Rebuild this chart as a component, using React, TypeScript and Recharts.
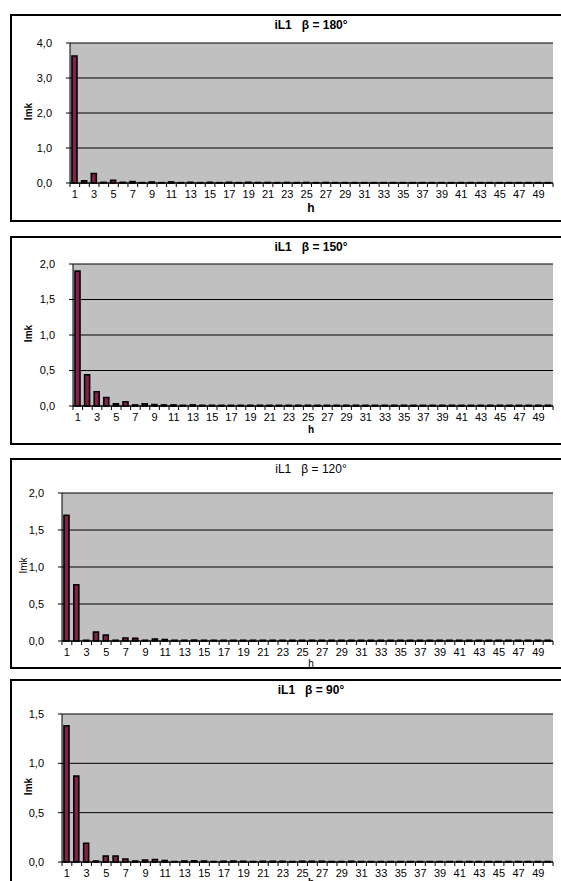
import { BarChart, Bar, XAxis, YAxis, CartesianGrid } from "recharts";

const harmonics = [
  1, 2, 3, 4, 5, 6, 7, 8, 9, 10, 11, 12, 13, 14, 15, 16, 17, 18, 19, 20, 21, 22, 23, 24, 25,
  26, 27, 28, 29, 30, 31, 32, 33, 34, 35, 36, 37, 38, 39, 40, 41, 42, 43, 44, 45, 46, 47, 48, 49, 50,
];

// beta = 180°
const imk180 = [
  3.63, 0.06, 0.27, 0.02, 0.08, 0.02, 0.04, 0.01, 0.03, 0.01, 0.03, 0.01, 0.02, 0.01, 0.02, 0.01, 0.02,
  0.01, 0.02, 0.01, 0.015, 0.01, 0.015, 0.01, 0.015, 0.01, 0.015, 0.01, 0.01, 0.01, 0.01, 0.01, 0.01,
  0.01, 0.01, 0.01, 0.01, 0.01, 0.01, 0.01, 0.01, 0.01, 0.01, 0.01, 0.01, 0.01, 0.01, 0.01, 0.01, 0.01,
];
// beta = 150°
const imk150 = [
  1.9, 0.44, 0.2, 0.12, 0.03, 0.06, 0.015, 0.03, 0.02, 0.015, 0.015, 0.01, 0.015, 0.01, 0.01, 0.01, 0.01,
  0.01, 0.01, 0.01, 0.01, 0.01, 0.01, 0.01, 0.01, 0.01, 0.01, 0.01, 0.01, 0.01, 0.01, 0.01, 0.01, 0.01,
  0.01, 0.01, 0.01, 0.01, 0.01, 0.01, 0.01, 0.01, 0.01, 0.01, 0.01, 0.01, 0.01, 0.01, 0.01, 0.01,
];
// beta = 120°
const imk120 = [
  1.7, 0.76, 0.01, 0.12, 0.08, 0.01, 0.04, 0.035, 0.01, 0.025, 0.02, 0.01, 0.01, 0.012, 0.01, 0.01, 0.01,
  0.01, 0.01, 0.01, 0.01, 0.01, 0.01, 0.01, 0.01, 0.01, 0.01, 0.01, 0.01, 0.01, 0.01, 0.01, 0.01, 0.01,
  0.01, 0.01, 0.01, 0.01, 0.01, 0.01, 0.01, 0.01, 0.01, 0.01, 0.01, 0.01, 0.01, 0.01, 0.01, 0.01,
];
// beta = 90°
const imk90 = [
  1.38, 0.87, 0.19, 0.01, 0.06, 0.06, 0.03, 0.01, 0.02, 0.025, 0.015, 0.005, 0.01, 0.012, 0.01, 0.005,
  0.008, 0.01, 0.008, 0.005, 0.008, 0.008, 0.008, 0.005, 0.008, 0.008, 0.008, 0.005, 0.005, 0.008, 0.005,
  0.005, 0.005, 0.005, 0.005, 0.005, 0.005, 0.005, 0.005, 0.005, 0.005, 0.005, 0.005, 0.005, 0.005, 0.005,
  0.005, 0.005, 0.005, 0.005,
];

const ticks180 = [0, 1, 2, 3, 4];
const ticks150 = [0, 0.5, 1, 1.5, 2];
const ticks120 = [0, 0.5, 1, 1.5, 2];
const ticks90 = [0, 0.5, 1, 1.5];

const FONT = "'Liberation Sans', Arial, sans-serif";
const PLOT_RIGHT = 553;

type PanelProps = {
  title: string;
  values: number[];
  ticks: number[];
  frameTop: number;
  frameHeight: number;
  plotLeft: number;
  plotTop: number;
  plotBottom: number;
  bold: boolean;
  smallH?: boolean;
  hTop?: number;
};

function Panel({ title, values, ticks, frameTop, frameHeight, plotLeft, plotTop, plotBottom, bold, smallH, hTop }: PanelProps) {
  const data = harmonics.map((h, i) => ({ h, v: values[i] }));
  const width = 561;
  const height = frameHeight;
  const band = (PLOT_RIGHT - plotLeft) / harmonics.length;
  const xAxisH = 30;
  const top = plotTop - frameTop;
  const bottom = height - (plotBottom - frameTop) - xAxisH;

  const XTick = (props: any) => {
    const { x, payload } = props;
    const h = payload.value as number;
    const y0 = plotBottom - frameTop;
    const left = x - band / 2;
    return (
      <g>
        <line x1={left} x2={left} y1={y0} y2={y0 + 4} stroke="#000" />
        {h === 50 && <line x1={x + band / 2} x2={x + band / 2} y1={y0} y2={y0 + 4} stroke="#000" />}
        {h % 2 === 1 && (
          <text x={x} y={y0 + 15} textAnchor="middle" fontSize={11} fill="#000" fontFamily={FONT}>
            {h}
          </text>
        )}
      </g>
    );
  };

  return (
    <>
      <div
        style={{
          position: "absolute",
          left: 10,
          top: frameTop,
          width: 560,
          height: frameHeight,
          border: "2px solid #000",
          boxSizing: "border-box",
          background: "#fff",
        }}
      />
      <div style={{ position: "absolute", left: 0, top: frameTop }}>
        <BarChart
          width={width}
          height={height}
          data={data}
          margin={{ top, right: width - PLOT_RIGHT, left: 0, bottom }}
          barSize={5}
        >
          <CartesianGrid vertical={false} stroke="#000" fill="#c0c0c0" fillOpacity={1} />
          <XAxis
            dataKey="h"
            interval={0}
            height={xAxisH}
            tickLine={false}
            axisLine={{ stroke: "#000" }}
            tick={<XTick />}
          />
          <XAxis xAxisId="top" dataKey="h" orientation="top" height={0} tick={false} tickLine={false} axisLine={{ stroke: "#808080", strokeWidth: 2 }} />
          <YAxis
            domain={[ticks[0], ticks[ticks.length - 1]]}
            ticks={ticks}
            width={plotLeft}
            tickLine={{ stroke: "#000" }}
            tickSize={4}
            tickMargin={14}
            axisLine={{ stroke: "#000" }}
            tick={{ fontSize: 11, fill: "#000", fontFamily: FONT }}
            tickFormatter={(v: number) => v.toFixed(1).replace(".", ",")}
          />
          <YAxis yAxisId="right" orientation="right" width={0} tick={false} tickLine={false} axisLine={{ stroke: "#808080", strokeWidth: 2 }} />
          <Bar dataKey="v" fill="#85204c" stroke="#000" strokeWidth={1.6} isAnimationActive={false} />
        </BarChart>
      </div>
      <div
        style={{
          position: "absolute",
          left: 0,
          width: 622,
          top: frameTop + 4,
          textAlign: "center",
          fontFamily: FONT,
          fontSize: 12,
          fontWeight: bold ? 700 : 400,
          whiteSpace: "pre",
        }}
      >
        {title}
      </div>
      <div
        style={{
          position: "absolute",
          left: bold ? 13 : 8,
          top: (plotTop + plotBottom) / 2 - 7,
          width: 30,
          textAlign: "center",
          transform: "rotate(-90deg)",
          fontFamily: FONT,
          fontSize: 10,
          fontWeight: bold ? 700 : 400,
        }}
      >
        Imk
      </div>
      <div
        style={{
          position: "absolute",
          left: 0,
          width: 622,
          top: hTop ?? plotBottom + 18,
          textAlign: "center",
          fontFamily: FONT,
          fontSize: smallH ? 10 : 12,
          fontWeight: bold ? 700 : 400,
        }}
      >
        h
      </div>
    </>
  );
}

export default function App() {
  return (
    <div style={{ position: "absolute", left: 0, top: 0, width: 561, height: 881, overflow: "hidden", background: "#fff" }}>
      <Panel title={"iL1   \u03b2 = 180\u00b0"} values={imk180} ticks={ticks180} frameTop={14} frameHeight={208} plotLeft={70} plotTop={43} plotBottom={183} bold />
      <Panel title={"iL1   \u03b2 = 150\u00b0"} values={imk150} ticks={ticks150} frameTop={236} frameHeight={209} plotLeft={73} plotTop={264} plotBottom={406} bold smallH />
      <Panel title={"iL1   \u03b2 = 120\u00b0"} values={imk120} ticks={ticks120} frameTop={458} frameHeight={211} plotLeft={62} plotTop={493} plotBottom={641} bold={false} smallH hTop={658} />
      <Panel title={"iL1   \u03b2 = 90\u00b0"} values={imk90} ticks={ticks90} frameTop={679} frameHeight={220} plotLeft={62} plotTop={714} plotBottom={862} bold smallH hTop={877} />
    </div>
  );
}
